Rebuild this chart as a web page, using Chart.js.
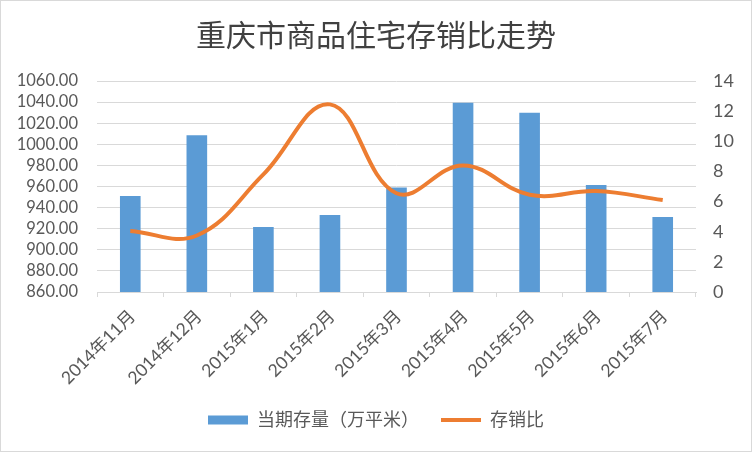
<!DOCTYPE html>
<html>
<head>
<meta charset="utf-8">
<script src="https://cdn.jsdelivr.net/npm/chart.js@4/dist/chart.umd.min.js"></script>
<style>
  body { margin: 0; background: #fff; }
  #wrap { width: 752px; height: 452px; }
</style>
</head>
<body>
<div id="wrap"><canvas id="chart" width="752" height="452"></canvas></div>
<script>
const months = ['2014年11月', '2014年12月', '2015年1月', '2015年2月', '2015年3月', '2015年4月', '2015年5月', '2015年6月', '2015年7月'];
const stock = [951, 1008.5, 921.5, 933, 959, 1039.5, 1030, 961.5, 931];
const ratio = [4.05, 3.75, 7.8, 12.45, 6.55, 8.4, 6.45, 6.7, 6.1];

const fontFamily = "Lato, 'Noto Sans CJK SC', sans-serif";
const textColor = '#595959';

const borderPlugin = {
    id: 'frame',
    afterDraw(chart) {
        const ctx = chart.ctx;
        ctx.save();
        ctx.strokeStyle = '#d9d9d9';
        ctx.lineWidth = 1;
        ctx.strokeRect(0.5, 0.5, chart.width - 1, chart.height - 1);
        ctx.restore();
    }
};

const chart = document.getElementById('chart');

new Chart(chart, {
    data: {
        labels: months,
        datasets: [
            {
                type: 'line',
                label: '存销比',
                data: ratio,
                yAxisID: 'y2',
                borderColor: '#ed7d31',
                backgroundColor: '#ed7d31',
                borderWidth: 4,
                pointRadius: 0,
                tension: 0.4,
                order: 0,
            },
            {
                type: 'bar',
                label: '当期存量（万平米）',
                data: stock,
                yAxisID: 'y',
                backgroundColor: '#5b9bd5',
                barPercentage: 0.31,
                categoryPercentage: 1,
                order: 1,
            },
        ]
    },
    options: {
        responsive: false,
        animation: false,
        layout: { padding: { left: 0, right: 0, top: 0, bottom: 13 } },
        plugins: {
            title: {
                display: true,
                text: '重庆市商品住宅存销比走势',
                color: '#404040',
                font: { family: "'Noto Sans CJK SC', sans-serif", size: 30, weight: 'normal' },
                padding: { top: 17, bottom: 28 },
            },
            legend: {
                position: 'bottom',
                reverse: true,
                labels: {
                    color: textColor,
                    font: { family: fontFamily, size: 18 },
                    usePointStyle: true,
                    pointStyleWidth: 40,
                    boxHeight: 9,
                    padding: 22,
                    generateLabels(c) {
                        const items = Chart.defaults.plugins.legend.labels.generateLabels(c);
                        items.forEach(it => {
                            if (it.datasetIndex === 0) {
                                it.pointStyle = 'line';
                                it.lineWidth = 4;
                                it.strokeStyle = '#ed7d31';
                            } else {
                                it.pointStyle = 'rect';
                                it.lineWidth = 0;
                            }
                        });
                        return items;
                    }
                }
            },
            tooltip: { enabled: false }
        },
        scales: {
            x: {
                offset: true,
                grid: { offset: true, drawOnChartArea: false, color: '#d9d9d9', tickLength: 5 },
                border: { color: '#d9d9d9' },
                ticks: {
                    color: textColor,
                    font: { family: fontFamily, size: 17.5 },
                    minRotation: 45,
                    maxRotation: 45,
                    padding: 9,
                    labelOffset: 2,
                    autoSkip: false,
                },
                afterFit(s) { s.height = 97; }
            },
            y: {
                position: 'left',
                min: 860,
                max: 1060,
                grid: { color: '#d9d9d9', drawTicks: false },
                border: { display: false },
                ticks: {
                    stepSize: 20,
                    autoSkip: false,
                    color: textColor,
                    font: { family: fontFamily, size: 16.5 },
                    padding: 19,
                    callback: v => v.toFixed(2),
                },
                afterFit(s) { s.width = 97; }
            },
            y2: {
                position: 'right',
                min: 0,
                max: 14,
                grid: { display: false, drawTicks: false },
                border: { display: false },
                ticks: {
                    stepSize: 2,
                    autoSkip: false,
                    color: textColor,
                    font: { family: fontFamily, size: 18 },
                    padding: 17,
                },
                afterFit(s) { s.width = 56; }
            }
        }
    },
    plugins: [borderPlugin]
});
</script>
</body>
</html>
